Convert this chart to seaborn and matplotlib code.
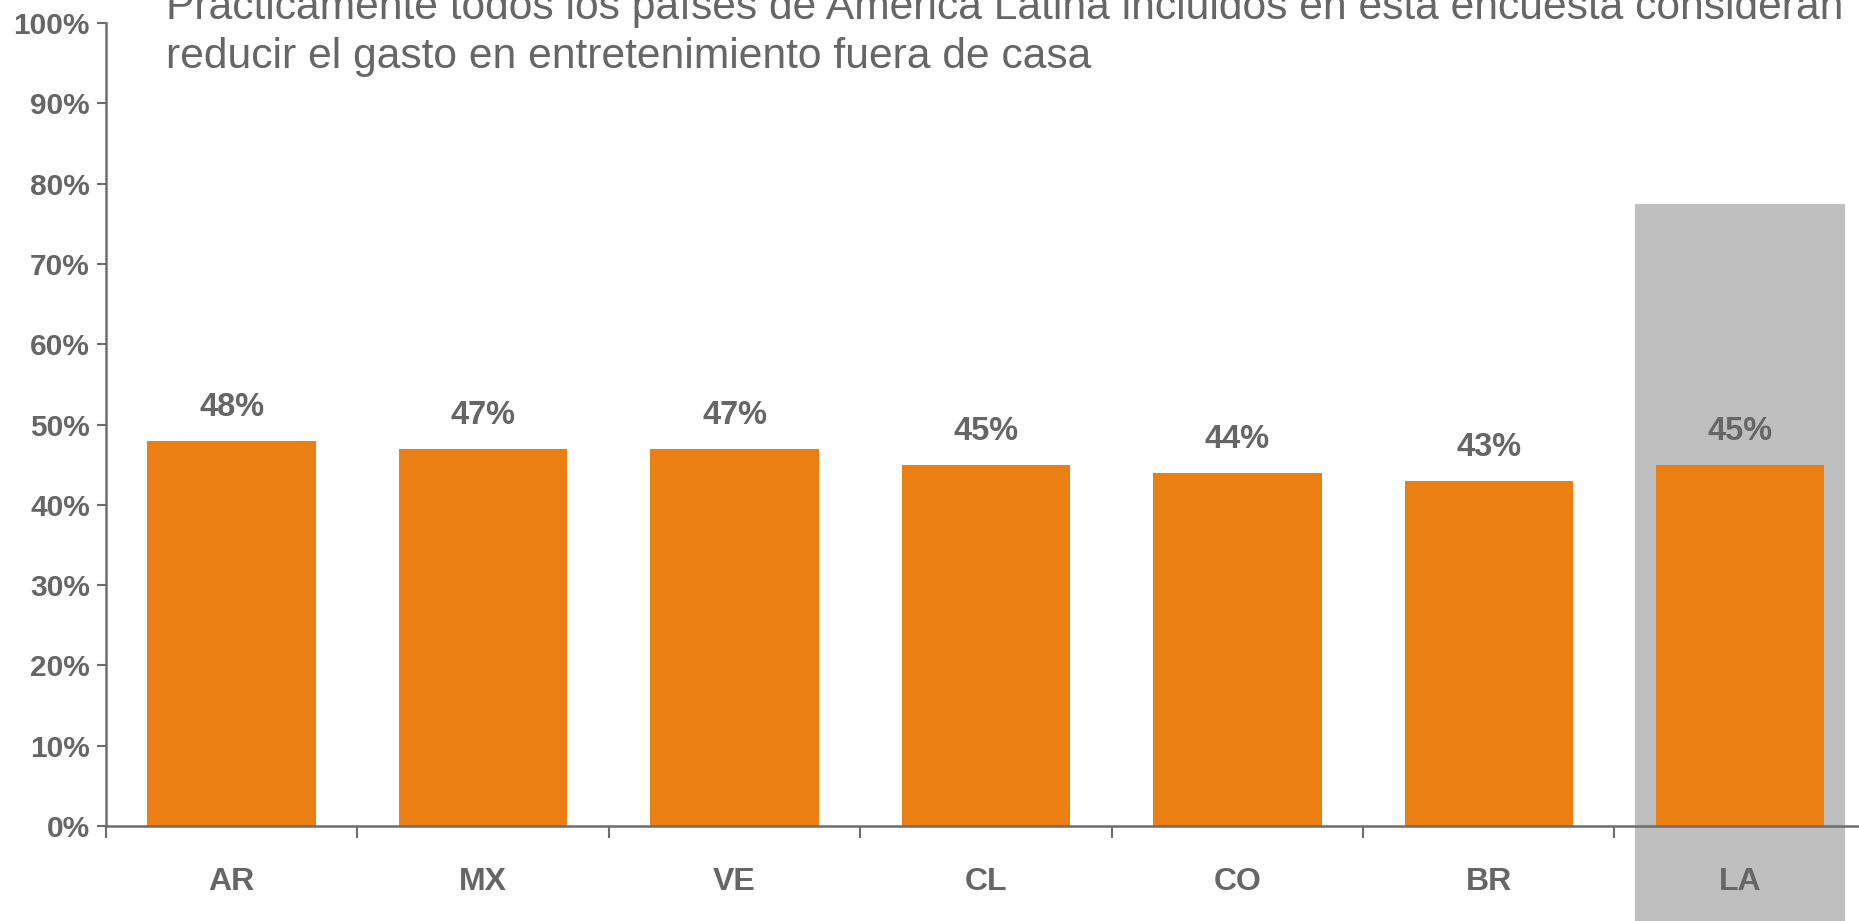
import matplotlib
matplotlib.use("Agg")
import matplotlib.pyplot as plt
import matplotlib.ticker as mticker
import pandas as pd
import seaborn as sns

# data
countries = ["AR", "MX", "VE", "CL", "CO", "BR", "LA"]
shares = [0.48, 0.47, 0.47, 0.45, 0.44, 0.43, 0.45]
highlight = "LA"
highlight_top = 0.775
title = ("Prácticamente todos los países de América Latina incluidos en esta encuesta consideran\n"
         "reducir el gasto en entretenimiento fuera de casa")

ORANGE = "#EB7F14"
GREY_BOX = "#BFBFBF"
TEXT = "#666666"
AXIS = "#6d6d6d"

sns.set_style("white")
plt.rcParams["font.family"] = ["Liberation Sans", "DejaVu Sans"]

df = pd.DataFrame({"country": countries, "share": shares})

fig = plt.figure(figsize=(18.59, 9.21), dpi=100)
ax = fig.add_axes([0.057, 0.1031, 0.9467, 0.8719])

# grey highlight column behind the regional average
hi = countries.index(highlight)
ax.bar(hi, highlight_top + 0.15, bottom=-0.15, width=0.835, color=GREY_BOX,
       zorder=0.5, clip_on=False, linewidth=0)

sns.barplot(data=df, x="country", y="share", color=ORANGE, width=0.67,
            saturation=1, ax=ax, zorder=2, linewidth=0)

for i, v in enumerate(shares):
    ax.annotate(f"{v * 100:.0f}%", (i, v), xytext=(0, 24), textcoords="offset points",
                ha="center", va="center", fontsize=23.5, fontweight="bold", color=TEXT)

ax.set_xlim(-0.5, len(countries) - 0.5)
ax.set_ylim(0, 1)
ax.yaxis.set_major_locator(mticker.MultipleLocator(0.1))
ax.yaxis.set_major_formatter(mticker.PercentFormatter(1.0, decimals=0))
ax.set_xticks([i - 0.5 for i in range(len(countries))], minor=True)

ax.tick_params(axis="x", which="major", bottom=True, length=0, pad=29.5, labelsize=23,
               labelcolor=TEXT)
ax.tick_params(axis="x", which="minor", bottom=True, length=8.5, width=1.5, color=AXIS,
               direction="out")
ax.tick_params(axis="y", left=True, length=6.5, width=1.5, color=AXIS, direction="out",
               pad=5, labelsize=21.5, labelcolor=TEXT)
for lab in ax.get_xticklabels() + ax.get_yticklabels():
    lab.set_fontweight("bold")

for side in ["top", "right"]:
    ax.spines[side].set_visible(False)
for side in ["left", "bottom"]:
    ax.spines[side].set_color(AXIS)
    ax.spines[side].set_linewidth(1.8)
    ax.spines[side].set_zorder(3)

ax.set_xlabel("")
ax.set_ylabel("")

fig.text(166 / 1859, 0.9655, title, ha="left", va="center", fontsize=30.7,
         color=TEXT, linespacing=1.3)

fig.savefig("out.png", dpi=100)
